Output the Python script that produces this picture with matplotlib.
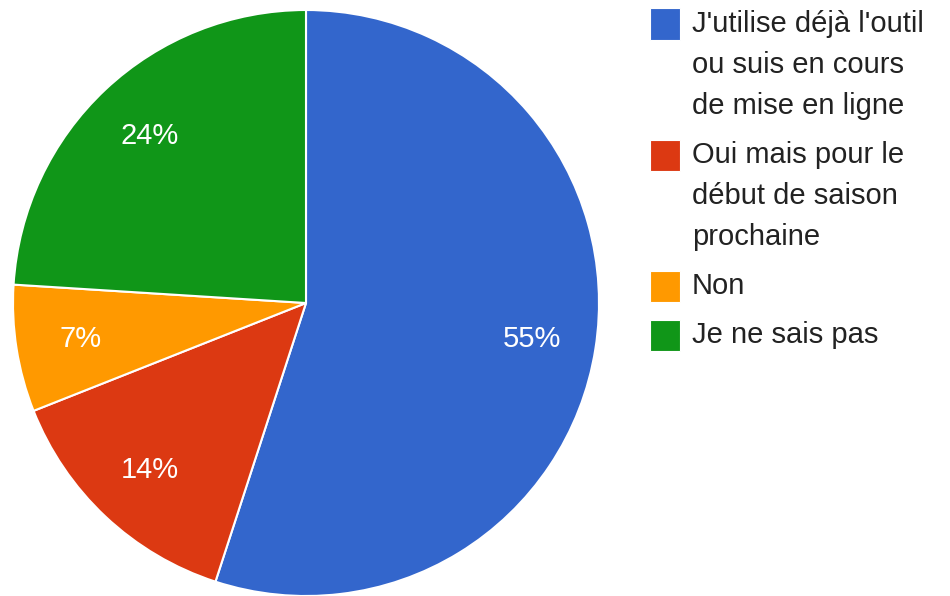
import matplotlib.pyplot as plt
from matplotlib.patches import Rectangle

plt.rcParams['font.family'] = ['Liberation Sans', 'DejaVu Sans']

# Réponses au sondage (en %)
labels = ["J'utilise déjà l'outil\nou suis en cours\nde mise en ligne",
          "Oui mais pour le\ndébut de saison\nprochaine",
          "Non",
          "Je ne sais pas"]
values = [55, 14, 7, 24]
colors = ['#3366cc', '#dc3912', '#ff9900', '#109618']

W, H = 950, 596
fig = plt.figure(figsize=(W / 100, H / 100), dpi=100)

# Camembert : centre (306, 303), rayon 293 px
cx, cy, r = 306, 303, 293
ax = fig.add_axes([(cx - r) / W, (H - cy - r) / H, 2 * r / W, 2 * r / H])
ax.pie(values, colors=colors, startangle=90, counterclock=False,
       autopct='%d%%', pctdistance=0.78,
       wedgeprops=dict(edgecolor='white', linewidth=1.5),
       textprops=dict(color='white', fontsize=21))
ax.set_xlim(-1, 1)
ax.set_ylim(-1, 1)
ax.set_aspect('equal')
ax.axis('off')

# Légende dessinée à la main (carré aligné sur la première ligne)
line_h, gap = 41, 8
y = 24
for lab, col in zip(labels, colors):
    fig.patches.append(Rectangle((650 / W, 1 - (y + 15.5) / H), 30 / W, 31 / H,
                                 transform=fig.transFigure, facecolor=col,
                                 edgecolor='white', linewidth=0.8))
    for ligne in lab.split('\n'):
        fig.text(692 / W, 1 - y / H, ligne, fontsize=21, color='#222222',
                 ha='left', va='center')
        y += line_h
    y += gap

fig.savefig('out.png', dpi=100)
